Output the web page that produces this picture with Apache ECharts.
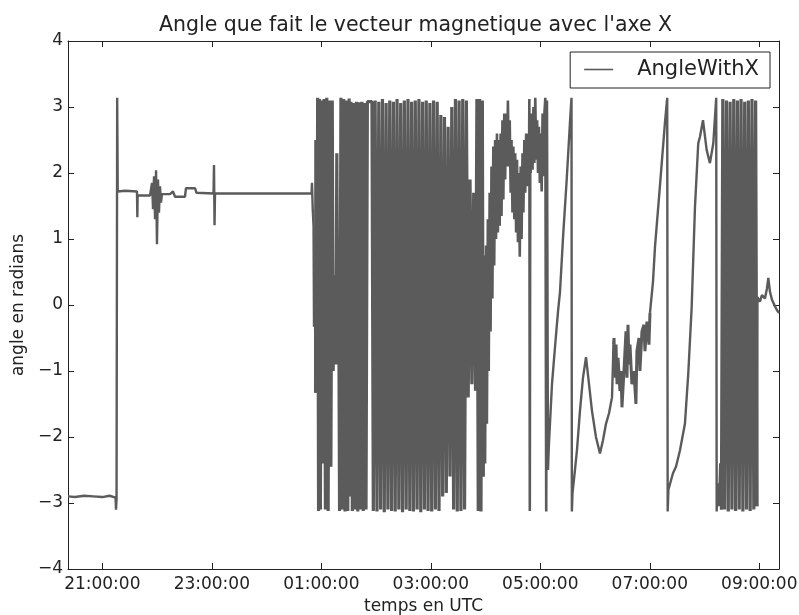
<!DOCTYPE html>
<html>
<head>
<meta charset="utf-8">
<script src="https://cdn.jsdelivr.net/npm/echarts@6/dist/echarts.min.js"></script>
<style>
html,body{margin:0;padding:0;background:#ffffff;}
#chart{width:799px;height:615px;}
</style>
</head>
<body>
<div id="chart"></div>
<script>
// ---------- texts ----------
const chartTitle = "Angle que fait le vecteur magnetique avec l'axe X";
const seriesName = 'AngleWithX';
const xAxisName = 'temps en UTC';
const yAxisName = 'angle en radians';

// ---------- axes (x = minutes since 21:00 UTC) ----------
const xRange = [-37.6, 741.6];
const xTickMinutes = [0, 120, 240, 360, 480, 600, 720];
const xTickLabels = ['21:00:00', '23:00:00', '01:00:00', '03:00:00', '05:00:00', '07:00:00', '09:00:00'];
const yRange = [-4, 4];
const yTickStep = 1;

// ---------- data: [minutes since 21:00, angle in radians] ----------
const calmSegment = [
  [-37.6,-2.90],[-30,-2.91],[-20,-2.89],[-10,-2.90],[0,-2.91],[8,-2.89],[14.5,-2.92],[15.0,-3.10],[15.6,-2.95],
  [16.3,3.14],[16.9,1.72],[25,1.73],[38.0,1.72],[38.4,1.33],[38.7,1.66],[52.3,1.66],[54.5,1.85],[55.6,1.45],
  [56.7,1.95],[57.8,1.30],[58.9,2.04],[59.9,0.92],[61.0,1.90],[62.1,1.40],[63.2,1.80],[64.3,1.55],[65.4,1.68],
  [74.2,1.68],[77.5,1.72],[79.7,1.64],[90.6,1.64],[91.7,1.77],[101.6,1.77],[103.2,1.70],[121.9,1.69],[122.4,2.12],
  [123.0,1.21],[123.5,1.69],[172.8,1.69],[229.3,1.69],[229.8,1.85],[230.6,1.45],[231.5,1.20],[232.0,-0.33],
  [232.6,0.40],[233.1,-0.03],[233.7,-1.33]
];
const denseSegmentA = [
  [234,2.5],[235,-1.3],[236,3.14],[237,-3.12],[238,3.12],[239,-3.1],[240.5,3.1],[242,-2.4],[243,3.12],[244.5,-3.1],
  [246,3.14],[247.5,-3.12],[249,3.1],[250.5,-2.45],[252,3.1],[253,-1.0],[254.5,0.45],[256,-0.9],[257,2.3],[258,-0.6],
  [259,0.5],[260,-3.12],[261.5,3.14],[263,-3.1],[264.5,3.12],[266,-3.13],[267.5,3.1],[269,-3.12],[270.5,3.13],[271.5,-2.9],
  [272.5,3.08],[274,-3.12],[275.5,3.06],[277,-3.1],[278.5,3.08],[280,-3.13],[281.5,3.07],[283,-3.1],[284.5,3.08],[286,-3.12],
  [287.5,3.06],[289,-3.1],[290.5,3.08],[292.5,3.1],[295.5,3.08],[297,-3.12],[299,3.1],[301,-3.13],[303,3.08],[305,-3.1],
  [307,3.12],[309,-3.14],[311,3.06],[313,-3.1],[315,3.1],[317,-3.12],[319,3.08],[321,-3.13],[323,3.12],[325,-3.1],
  [327,3.06],[329,-3.14],[331,3.1],[333,-3.1],[335,3.12],[337,-3.12],[339,3.08],[341,-3.13],[343,3.1],[345,-3.1],
  [347,3.12],[349,-3.14],[351,3.08],[353,-3.1],[355,3.1],[357,-3.12],[359,3.06],[361,-3.13],[363,3.1],[365,-3.1],
  [367,3.08],[369,-3.12],[371,2.88],[373,-2.9],[375,2.85],[377,-2.85],[379,2.7],[381,-2.6],[383,3.0],[385,-3.1],
  [387,3.12],[389,-3.13],[391,3.1],[393,-3.12],[395,3.12],[397,-3.1],[399,3.1],[401,-1.4],[403,1.9],[405,-1.2],
  [407,1.7],[409,-1.3],[410.5,3.12],[412,-3.12],[413.5,3.12],[415,-3.13],[416.5,3.1],[417.5,-2.6]
];
const bandSegment = [
  [418.5,0.75],[419.5,-2.4],[420.5,0.9],[421.5,-1.8],[422.5,1.3],[423.5,-1.0],[424.5,1.7],[425.5,-0.4],[426.5,2.1],
  [427.5,0.1],[428.5,2.4],[429.5,0.6],[430.5,2.5],[431.5,1.0],[432.5,2.6],[433.5,1.1],[434.5,2.5],[435.5,1.2],
  [436.5,2.6],[437.5,1.35],[438.5,2.8],[439.5,1.6],[440.5,2.9],[441.5,1.9],[442.5,2.9],[443.5,2.1],[444.5,3.1],
  [445.5,2.1],[446.5,2.8],[447.5,1.7],[448.5,2.5],[449.5,1.4],[450.5,2.4],[451.5,1.3],[452.5,2.3],[453.5,1.1],
  [454.5,2.2],[455.5,0.95],[456.5,2.0],[457.5,0.73],[458.5,2.1],[459.5,1.0],[460.5,2.3],[461.5,1.4],[462.5,2.5],
  [463.5,1.7],[464.5,2.6],[465.5,1.8],[466.5,2.6],[467.5,1.9],[468,3.12],[468.5,-3.12],[469,2.3],[469.5,2.0],
  [470.5,2.9],[471.5,2.05],[472.5,3.0],[473.5,2.15],[474.5,3.14],[475.5,2.2],[476.5,2.8],[477.5,2.0],[478.5,2.7],
  [479.5,1.85],[480.5,2.6],[481.5,1.72],[482.5,2.9],[483.5,1.95],[484.5,2.9],[485.5,3.14],[486.5,-3.13],[487.3,3.1],
  [488.3,-2.5]
];
const driftSegment = [
  [489.5,-2.1],[492.8,-1.2],[496.1,-0.64],[499.4,-0.1],[501.6,0.2],[505.2,1.09],[508.9,1.89],[512.5,2.76],[514.2,3.14],
  [514.6,-3.13],[515.3,-2.85],[518.0,-2.5],[520.2,-2.2],[523.5,-1.6],[526.8,-1.1],[530.1,-0.79],[533.4,-1.2],[536.6,-1.6],
  [541.0,-2.0],[545.4,-2.25],[548.7,-2.05],[552.0,-1.8],[555.3,-1.64],[558.6,-1.4],[560.2,-0.6]
];
const noisySegment = [
  [560.8,-0.5],[561.9,-1.1],[563.0,-0.6],[564.1,-1.2],[565.2,-0.8],[567.3,-1.3],[568.4,-1.0],[569.5,-1.55],[571.7,-1.0],
  [573.9,-0.4],[575.0,-1.1],[576.1,-0.3],[577.2,-0.9],[578.3,-0.6],[580.4,-1.2],[582.6,-1.0],[584.8,-1.5],[585.9,-0.7],
  [588.1,-0.5],[589.2,-1.0],[591.4,-0.4],[593.6,-0.3],[594.7,-0.7],[596.9,-0.25],[599.1,-0.6],[600.2,-0.12]
];
const riseSegment = [
  [603.5,0.35],[605.7,0.88],[611.1,1.8],[616.6,2.76],[619.1,3.14],[619.6,-3.13],[620.4,-2.8],[625.4,-2.55],[628.7,-2.45],
  [633.1,-2.2],[638.5,-1.8],[642.2,-1.03],[645.9,-0.03],[649.5,1.48],[653.1,2.45],[655.0,2.55],[658.3,2.8],[662.3,2.35],
  [665.9,2.15],[669.6,2.45],[672.8,3.14],[673.3,-3.13],[674.4,-2.7],[675.8,-3.05],[677.2,-2.4],[678.5,-3.1]
];
const denseSegmentB = [
  [680,3.12],[682,-3.1],[684,3.1],[686,-3.13],[688,3.08],[690,-3.1],[692,3.12],[694,-3.12],[696,3.1],[698,-3.1],
  [700,3.12],[702,-3.13],[704,3.08],[706,-3.1],[708,3.1],[710,-3.12],[712,3.12],[714,-3.1],[716,3.1],[717.5,-3.05]
];
const tailSegment = [
  [718.0,0.12],[720.7,0.05],[722.9,0.15],[726.2,0.1],[728.4,0.25],[729.9,0.41],[731.7,0.2],[733.9,0.08],
  [737.2,-0.02],[739.4,-0.08],[741.6,-0.12]
];

// ---------- build ----------
const lineColor = '#5b5b5b';
const inkColor = '#222222';
const fontFamily = 'DejaVu Sans';
// one continuous trace; fast-oscillation parts use a heavier stroke
const segments = [
  {data: calmSegment, width: 2.4},
  {data: denseSegmentA, width: 3.2},
  {data: bandSegment, width: 2.6},
  {data: driftSegment, width: 2.4},
  {data: noisySegment, width: 3},
  {data: riseSegment, width: 2.4},
  {data: denseSegmentB, width: 3.2},
  {data: tailSegment, width: 2.4}
];

function xLabel(v) {
  const i = xTickMinutes.indexOf(Math.round(v));
  return i >= 0 ? xTickLabels[i] : '';
}
function yLabel(v) {
  return v < 0 ? '\u2212' + Math.abs(v) : String(v);
}

const seriesList = segments.map(function (seg, k) {
  const pts = k > 0 ? [segments[k - 1].data[segments[k - 1].data.length - 1]].concat(seg.data) : seg.data;
  return {
    name: seriesName,
    type: 'line',
    xAxisIndex: 0, yAxisIndex: 0,
    data: pts,
    showSymbol: false, symbol: 'none',
    lineStyle: {color: lineColor, width: seg.width, join: 'bevel'},
    itemStyle: {color: lineColor},
    emphasis: {disabled: true},
    z: 2
  };
});

const chart = echarts.init(document.getElementById('chart'), null, {renderer: 'canvas'});
const axisLineStyle = {color: inkColor, width: 1};
chart.setOption({
  animation: false,
  backgroundColor: '#ffffff',
  title: {
    text: chartTitle,
    left: 159, top: 15, padding: 0,
    textStyle: {fontFamily: fontFamily, fontSize: 20.5, fontWeight: 'normal', color: inkColor}
  },
  legend: {
    data: [{name: seriesName, icon: 'path://M0,0H29V1.6H0Z'}],
    right: 29, top: 52,
    padding: [7, 11, 8, 14],
    borderColor: inkColor, borderWidth: 1, borderRadius: 0,
    itemWidth: 29, itemHeight: 1.6,
    textStyle: {fontFamily: fontFamily, fontSize: 21, color: inkColor, padding: [0, 0, 0, 19]}
  },
  grid: {left: 68, right: 20, top: 41, bottom: 46, containLabel: false, outerBoundsMode: 'none'},
  xAxis: [
    {
      type: 'value', position: 'bottom', min: xRange[0], max: xRange[1],
      name: xAxisName, nameLocation: 'middle', nameGap: 29,
      nameTextStyle: {fontFamily: fontFamily, fontSize: 17, color: inkColor},
      axisLine: {show: true, onZero: false, lineStyle: axisLineStyle},
      axisTick: {show: true, inside: true, length: 6, customValues: xTickMinutes, lineStyle: axisLineStyle},
      axisLabel: {customValues: xTickMinutes, formatter: xLabel, fontFamily: fontFamily, fontSize: 17, color: inkColor, margin: 7},
      splitLine: {show: false}
    },
    {
      type: 'value', position: 'top', min: xRange[0], max: xRange[1],
      axisLine: {show: true, onZero: false, lineStyle: axisLineStyle},
      axisTick: {show: true, inside: true, length: 6, customValues: xTickMinutes, lineStyle: axisLineStyle},
      axisLabel: {show: false},
      splitLine: {show: false}
    }
  ],
  yAxis: [
    {
      type: 'value', position: 'left', min: yRange[0], max: yRange[1], interval: yTickStep,
      name: yAxisName, nameLocation: 'middle', nameGap: 41, nameRotate: 90,
      nameTextStyle: {fontFamily: fontFamily, fontSize: 17, color: inkColor},
      axisLine: {show: true, onZero: false, lineStyle: axisLineStyle},
      axisTick: {show: true, inside: true, length: 6, lineStyle: axisLineStyle},
      axisLabel: {formatter: yLabel, fontFamily: fontFamily, fontSize: 17, color: inkColor, margin: 5},
      splitLine: {show: false}
    },
    {
      type: 'value', position: 'right', min: yRange[0], max: yRange[1], interval: yTickStep,
      axisLine: {show: true, onZero: false, lineStyle: axisLineStyle},
      axisTick: {show: true, inside: true, length: 6, lineStyle: axisLineStyle},
      axisLabel: {show: false},
      splitLine: {show: false}
    }
  ],
  series: seriesList
});
</script>
</body>
</html>
